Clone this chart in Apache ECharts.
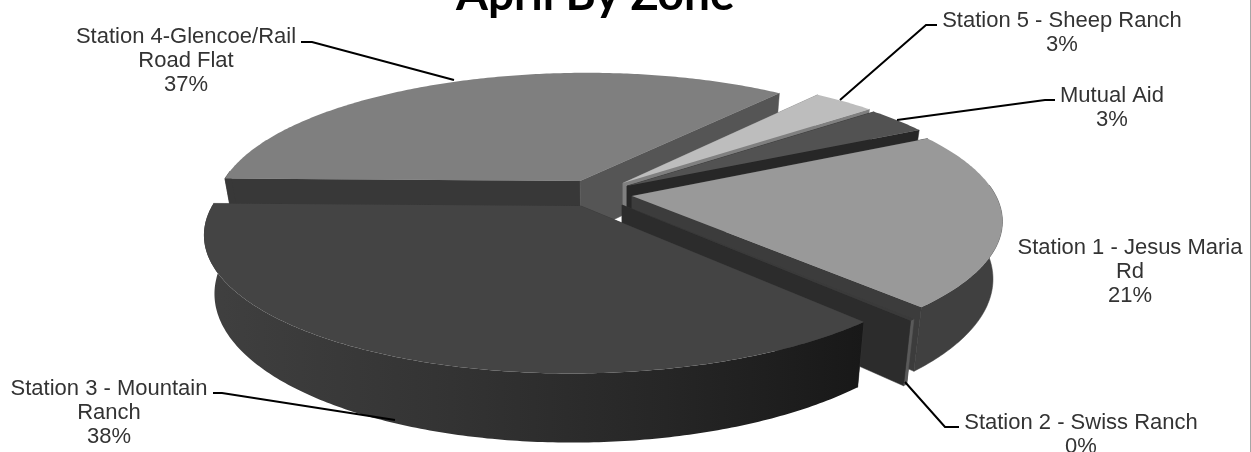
<!DOCTYPE html>
<html>
<head>
<meta charset="utf-8">
<style>html,body{margin:0;padding:0;background:#fff}#c{width:1251px;height:452px}</style>
<script src="https://cdn.jsdelivr.net/npm/echarts@6/dist/echarts.min.js"></script>
</head>
<body>
<div id="c"></div>
<script>
// ---- data ----
var zones = ['Station 1 - Jesus Maria Rd', 'Station 2 - Swiss Ranch', 'Station 3 - Mountain Ranch',
             'Station 4-Glencoe/Rail Road Flat', 'Station 5 - Sheep Ranch', 'Mutual Aid'];
var shares = [21.4, 0.2, 38.4, 36.5, 3.4, 3.4];
var labelLines = [['Station 1 - Jesus Maria', 'Rd'], ['Station 2 - Swiss Ranch'], ['Station 3 - Mountain', 'Ranch'],
                  ['Station 4-Glencoe/Rail', 'Road Flat'], ['Station 5 - Sheep Ranch'], ['Mutual Aid']];
var titleText = 'April By Zone';

// ---- layout and style ----
var firstAngle = 62;
var view = {cx: 625, cy: 188, rx: 360, ry: 130, k: 0.18, depth: 55, shrink: 0.975};
var drawOrder = [3, 4, 5, 0, 1, 2];
var hubs = [[632, 196], [622, 205], [581, 206], [580, 181], [623, 183], [627, 186]];
var topColors = ['#999999', '#3a3a3a', '#444444', '#7f7f7f', '#bdbdbd', '#525252'];
var startWall = ['#3c3c3c', '#3c3c3c', '#383838', '#383838', '#808080', '#2a2a2a'];
var endWall = ['#3c3c3c', '#2c2c2c', '#383838', '#555555', '#808080', '#272727'];
var rimColors = ['#404040', '#5a5a5a', null, '#383838', '#808080', '#2a2a2a'];
var labelAnchors = [[1130, 248], [1081, 423], [109, 389], [186, 37], [1062, 21], [1112, 96]];
var lineGap = 24;
var leaders = [null, [[905, 382], [945, 427], [959, 427]], [[395, 420], [222, 393], [213, 393]],
               [[454, 80], [312, 42], [301, 42]], [[840, 100], [926, 25], [937, 25]], [[897, 120], [1045, 100], [1055, 100]]];

var total = shares.reduce(function (s, v) { return s + v; }, 0);
var acc = firstAngle;
var spans = shares.map(function (v) {
  var a = acc; acc += v / total * 360; return [a, acc];
});

function project(a, b, h) {
  var f = 1 / (1 - view.k * b);
  var x = view.rx * a * f;
  var s = h ? view.shrink : 1;
  return [view.cx + x * s, view.cy + view.ry * b * f + (h ? view.depth * f : 0)];
}
function hubGround(p) {
  var Y = p[1] - view.cy;
  var b = Y / (view.ry + view.k * Y);
  var f = 1 / (1 - view.k * b);
  return [(p[0] - view.cx) / (view.rx * f), b];
}
function rimPoint(hub, deg) {
  var t = deg * Math.PI / 180;
  return [hub[0] + Math.sin(t), hub[1] - Math.cos(t)];
}
function poly(points, fill, bare) {
  return {type: 'polygon', shape: {points: points},
          style: {fill: fill, stroke: (!bare && typeof fill === 'string') ? fill : null, lineWidth: 0.5}};
}

function renderSlice(params) {
  var i = drawOrder[params.dataIndex];
  var g = hubGround(hubs[i]);
  var a0 = spans[i][0], a1 = spans[i][1];
  var n = Math.max(2, Math.ceil((a1 - a0) * 1.5));
  var top = [], bottom = [], stripTop = [], stripBottom = [];
  for (var j = 0; j <= n; j++) {
    var deg = a0 + (a1 - a0) * j / n;
    var r = rimPoint(g, deg);
    var pt = project(r[0], r[1], 0), pb = project(r[0], r[1], 1);
    top.push(pt);
    bottom.push(pb);
    var d = ((deg % 360) + 360) % 360;
    if (d >= 85 && d <= 275) { stripTop.push(pt); stripBottom.push(pb); }
  }
  var hubT = project(g[0], g[1], 0), hubB = project(g[0], g[1], 1);
  var rimFill = rimColors[i] || new echarts.graphic.LinearGradient(0, 0, 1, 0, [
    {offset: 0, color: '#404040'}, {offset: 0.35, color: '#343434'},
    {offset: 0.7, color: '#262626'}, {offset: 1, color: '#181818'}]);
  var kids = [poly([hubT, top[0], bottom[0], hubB], startWall[i])];
  if (stripTop.length > 1) {
    kids.push(poly(stripTop.concat(stripBottom.slice().reverse()), rimFill));
  }
  kids.push(poly([hubT, top[n], bottom[n], hubB], endWall[i]));
  kids.push(poly([hubT].concat(top), topColors[i], true));
  if (leaders[i]) {
    kids.push({type: 'polyline', shape: {points: leaders[i]},
               style: {stroke: '#000', fill: null, lineWidth: 2}});
  }
  var lines = labelLines[i].concat([Math.round(shares[i]) + '%']);
  lines.forEach(function (t, k) {
    kids.push({type: 'text', style: {
      text: t, x: labelAnchors[i][0], y: labelAnchors[i][1] + k * lineGap,
      align: 'center', verticalAlign: 'middle', fill: '#333',
      font: '22px "Liberation Sans", Arial, sans-serif'}});
  });
  return {type: 'group', children: kids};
}

var chart = echarts.init(document.getElementById('c'), null, {renderer: 'canvas'});
chart.setOption({
  animation: false,
  backgroundColor: '#fff',
  title: {text: titleText, left: 451, top: -33,
          textStyle: {fontFamily: 'Lato', fontWeight: 'bold', fontSize: 46, color: '#000'}},
  graphic: [{type: 'line', shape: {x1: 1250.5, y1: 0, x2: 1250.5, y2: 452}, style: {stroke: '#a6a6a6', lineWidth: 1}}],
  series: [{
    type: 'custom',
    coordinateSystem: 'none',
    renderItem: renderSlice,
    data: drawOrder.map(function (i) { return {name: zones[i], value: shares[i]}; })
  }]
});
</script>
</body>
</html>
